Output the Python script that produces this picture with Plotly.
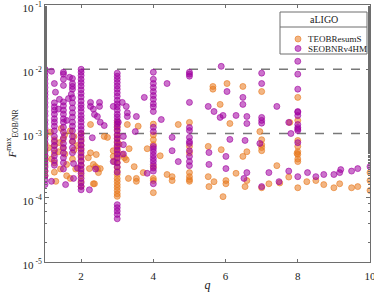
import plotly.graph_objects as go

# ---------------- data ----------------
teob_q = [
    1.0, 1.0, 1.0, 1.0, 1.0, 1.0, 1.0, 1.0,
    1.1, 1.18, 1.26, 1.26, 1.26, 1.26, 1.26, 1.3, 1.15, 1.37,
    1.45, 1.5, 1.5, 1.55, 1.43, 1.6, 1.6, 1.54, 1.4,
    1.7, 1.76, 1.8, 1.76, 1.85, 1.7, 1.8, 1.9,
    2.0, 2.0, 2.0, 2.0, 2.0, 2.0, 2.0, 2.0, 2.0, 2.0, 2.0,
    2.26, 2.64, 2.26, 2.42, 2.34, 2.4, 2.48, 2.53, 2.34, 2.23, 2.45, 2.37, 2.2,
    3.0, 3.0, 3.0, 3.0, 3.0, 3.0, 3.0, 3.0, 3.0, 3.0, 3.0, 3.0, 3.0, 3.0, 3.0,
    3.0, 3.0, 3.0, 3.0, 3.0, 3.0, 3.0,
    2.89, 2.89, 2.92, 3.14, 3.2, 3.25, 3.33, 3.47, 3.31, 3.53, 3.53, 3.72, 3.83,
    3.28, 3.58, 2.73, 3.05,
    4.0, 4.0, 4.0, 4.0, 4.0, 4.0, 4.0, 4.0,
    4.19, 4.38, 4.52, 4.52, 4.69,
    5.0, 5.0, 5.0, 5.0, 5.0, 5.0, 5.0,
    5.65, 5.65, 6.04, 6.48, 5.85, 6.12, 7.0, 6.95, 7.0, 7.0, 7.0, 7.0,
    5.52, 5.88, 6.48, 6.59, 6.29, 6.59, 5.52, 5.68, 5.54, 6.01, 6.01, 5.93,
    6.54, 7.0, 7.2, 7.42, 7.5, 7.78,
    8.0, 8.0, 8.0, 8.0, 8.0, 8.0, 8.0, 8.0, 8.0, 7.75, 7.98,
    8.25, 8.5, 8.72, 9.0, 9.16, 9.49, 9.66, 10.0, 10.0, 10.0,
]
teob_F = [
    9e-4, 7e-4, 5.5e-4, 4.5e-4, 3.8e-4, 3.2e-4, 2.6e-4, 2.2e-4,
    6e-4, 4e-4, 8e-4, 6.5e-4, 5e-4, 3.5e-4, 2.5e-4, 1.8e-4, 1.05e-3, 5.2e-4,
    1.2e-3, 8e-4, 6e-4, 4.8e-4, 2.8e-4, 3.3e-4, 2.2e-4, 9.5e-4, 7.2e-4,
    1.1e-3, 7.5e-4, 5.5e-4, 4e-4, 2.8e-4, 2.0e-4, 9e-4, 6.5e-4,
    1.0e-3, 8e-4, 6.5e-4, 5.5e-4, 4.5e-4, 3.8e-4, 3.2e-4, 2.6e-4, 2.2e-4, 1.8e-4, 1.5e-4,
    1.38e-3, 9.0e-4, 5.0e-4, 4.7e-4, 3.3e-4, 3.05e-4, 2.46e-4, 2.84e-4, 1.65e-4, 2.84e-4, 2.84e-4, 1.65e-4, 4.2e-4,
    1.5e-3, 1.3e-3, 1.15e-3, 9.5e-4, 8.5e-4, 7.5e-4, 6.5e-4, 5.8e-4, 5.2e-4, 4.6e-4, 4.0e-4, 3.5e-4, 3.0e-4, 2.6e-4, 2.3e-4,
    2.0e-4, 1.8e-4, 1.6e-4, 1.45e-4, 1.3e-4, 1.15e-4, 1.05e-4,
    5.4e-4, 4.4e-4, 3.65e-4, 4.7e-4, 4.2e-4, 3.9e-4, 5.8e-4, 3.05e-4, 2.0e-4, 2.0e-4, 1.8e-4, 2.46e-4, 5.8e-4,
    1.38e-3, 1.3e-3, 8.7e-4, 6.8e-4,
    1.4e-3, 9.5e-4, 8.0e-4, 6.7e-4, 3.05e-4, 2.0e-4, 1.85e-4, 1.2e-4,
    4.5e-4, 2.3e-4, 2.13e-4, 1.85e-4, 1.38e-3,
    1.49e-3, 6.3e-4, 5.0e-4, 2.46e-4, 2.13e-4, 1.92e-4, 1.8e-4,
    5.4e-3, 4.9e-3, 6.0e-3, 5.4e-3, 2.84e-3, 1.43e-3, 4.5e-3, 1.07e-3, 8.0e-4, 6.7e-4, 6.05e-4, 5.4e-4,
    6.3e-4, 5.6e-4, 4.4e-4, 5.2e-4, 2.4e-4, 1.85e-4, 2.13e-4, 1.78e-4, 1.49e-4, 1.85e-4, 1.65e-4, 1.04e-4,
    1.49e-4, 1.43e-4, 1.65e-4, 3.16e-4, 1.7e-4, 1.49e-3,
    3.65e-3, 1.6e-3, 7.8e-4, 6.3e-4, 5.2e-4, 4.7e-4, 4.0e-4, 3.65e-4, 1.43e-4, 2.1e-4, 4.9e-4,
    1.78e-4, 1.85e-4, 1.6e-4, 1.43e-4, 1.65e-4, 1.43e-4, 1.49e-4, 2.46e-4, 1.85e-4, 1.3e-4,
]

seob_q = [
    1.0, 1.0, 1.0, 1.0, 1.0, 1.0, 1.0, 1.0, 1.0, 1.0,
    1.0, 1.0, 1.0, 1.0, 1.0, 1.0, 1.0, 1.0, 1.0, 1.0,
    1.0, 1.0, 1.0, 1.0, 1.0, 1.0, 1.0, 1.0, 1.0, 1.0,
    1.18, 1.18,
    1.26, 1.26, 1.26, 1.26, 1.26, 1.26, 1.26, 1.26, 1.26, 1.26,
    1.26, 1.26, 1.26, 1.26, 1.26, 1.26, 1.29,
    1.51, 1.51, 1.51, 1.51, 1.51, 1.51, 1.51, 1.51, 1.51, 1.51,
    1.51, 1.51, 1.51, 1.51, 1.51, 1.51, 1.51, 1.51, 1.51, 1.57,
    1.76, 1.76, 1.76, 1.76, 1.76, 1.76, 1.76, 1.76, 1.76, 1.76,
    1.76, 1.76, 1.76, 1.76, 1.76, 1.76, 1.79, 1.79,
    1.4, 1.65, 1.6, 1.68, 1.73, 1.37, 1.9,
    2.0, 2.0, 2.0, 2.0, 2.0, 2.0, 2.0, 2.0, 2.0, 2.0, 2.0,
    2.0, 2.0, 2.0, 2.0, 2.0, 2.0, 2.0, 2.0, 2.0, 2.0, 2.0,
    2.0, 2.0, 2.0, 2.0, 2.0, 2.0, 2.0, 2.0, 2.0, 2.0, 2.0,
    2.26, 2.51, 2.51, 2.34, 2.37, 2.45, 2.53, 2.64, 2.31, 2.40, 2.23, 2.26,
    3.0, 3.0, 3.0, 3.0, 3.0, 3.0, 3.0, 3.0, 3.0, 3.0,
    3.0, 3.0, 3.0, 3.0, 3.0, 3.0, 3.0, 3.0, 3.0, 3.0,
    3.0, 3.0, 3.0, 3.0, 3.0, 3.0, 3.0, 3.0, 3.0, 3.0, 3.0, 3.0, 3.0,
    2.89, 3.14, 3.25, 3.28, 3.28, 3.03, 3.5, 3.53, 3.75, 3.17, 3.17, 3.17, 3.83, 2.89,
    4.0, 4.0, 4.0, 4.0, 4.0, 4.0, 4.0, 4.0, 4.0, 4.0, 4.0,
    4.0, 4.0, 4.0, 4.0, 4.0, 4.0, 4.0, 4.0, 4.0, 4.0, 4.0,
    4.38, 4.22, 4.52, 4.52, 4.69,
    5.0, 5.0, 5.0, 5.0, 5.0, 5.0, 5.0, 5.0, 5.0, 5.0, 5.0, 5.0, 5.0,
    5.88, 5.52, 5.68, 5.93, 5.85, 6.04, 6.29, 6.48, 6.48, 6.59, 6.59, 6.12, 6.54,
    5.54, 6.01, 5.54, 6.01, 6.59, 6.51,
    7.0, 7.0, 7.0, 7.0, 7.0, 6.95, 7.2, 7.42, 7.48, 7.75, 7.81, 7.75, 7.0,
    8.0, 8.0, 8.0, 8.0, 8.0, 8.0, 8.0, 8.0, 8.0, 8.0, 8.0, 8.0,
    8.27, 8.5, 8.72, 9.0, 9.16, 9.19, 9.49, 9.66, 10.0,
]
seob_F = [
    1.0e-2, 9e-3, 8e-3, 7e-3, 6e-3, 5.2e-3, 4.5e-3, 4e-3, 3.5e-3, 3e-3,
    2.6e-3, 2.2e-3, 1.9e-3, 1.6e-3, 1.4e-3, 1.2e-3, 1.05e-3, 9e-4, 8e-4, 7e-4,
    6e-4, 5.2e-4, 4.5e-4, 4e-4, 3.5e-4, 3e-4, 2.6e-4, 2.2e-4, 1.9e-4, 1.6e-4,
    9.3e-3, 1.8e-4,
    6.0e-3, 3.0e-3, 2.6e-3, 2.3e-3, 2.0e-3, 1.7e-3, 1.5e-3, 1.3e-3, 1.1e-3, 9e-4,
    7.5e-4, 6.5e-4, 5.5e-4, 4.5e-4, 3.8e-4, 3.2e-4, 4.4e-3,
    9.0e-3, 8.4e-3, 7.0e-3, 5.6e-3, 3.1e-3, 2.7e-3, 2.3e-3, 2.0e-3, 1.7e-3, 1.5e-3,
    1.25e-3, 1.05e-3, 8.5e-4, 7e-4, 6e-4, 5e-4, 4.2e-4, 3.5e-4, 2.8e-4, 1.6e-4,
    7.2e-3, 6.0e-3, 5.4e-3, 4.9e-3, 3.6e-3, 3.0e-3, 2.5e-3, 2.1e-3, 1.8e-3, 1.5e-3,
    1.3e-3, 1.1e-3, 9e-4, 7.5e-4, 6e-4, 5e-4, 3.4e-4, 2.0e-4,
    3.4e-3, 3.5e-3, 1.6e-3, 7.5e-3, 4.1e-3, 2.4e-3, 2.9e-4,
    1.0e-2, 9e-3, 8e-3, 7e-3, 6.2e-3, 5.5e-3, 4.8e-3, 4.2e-3, 3.7e-3, 3.2e-3, 2.8e-3,
    2.5e-3, 2.2e-3, 1.9e-3, 1.7e-3, 1.5e-3, 1.3e-3, 1.15e-3, 1.0e-3, 8.8e-4, 7.6e-4, 6.6e-4,
    5.8e-4, 5e-4, 4.3e-4, 3.7e-4, 3.2e-4, 2.8e-4, 2.4e-4, 2.0e-4, 1.7e-4, 1.5e-4, 1.33e-4,
    3.05e-3, 3.05e-3, 2.64e-3, 2.4e-3, 1.98e-3, 1.84e-3, 1.5e-3, 1.33e-3, 8.6e-4, 2.8e-4, 1.33e-4, 2.64e-3,
    8.7e-3, 7.8e-3, 7.0e-3, 6.2e-3, 5.5e-3, 4.9e-3, 4.3e-3, 3.8e-3, 3.3e-3, 2.9e-3,
    2.6e-3, 2.3e-3, 2.0e-3, 1.8e-3, 1.6e-3, 1.4e-3, 1.25e-3, 1.1e-3, 9.5e-4, 8.3e-4,
    7.2e-4, 6.3e-4, 5.5e-4, 4.8e-4, 4.2e-4, 3.5e-4, 3.0e-4, 2.5e-4, 7.8e-5, 7e-5, 6.2e-5, 5.5e-5, 4.7e-5,
    2.64e-3, 3.05e-3, 2.64e-3, 2.1e-3, 1.84e-3, 1.5e-3, 1.07e-3, 1.84e-3, 3.65e-3, 9.0e-4, 6.7e-4, 4.8e-4, 2.4e-4, 3.65e-4,
    9.0e-3, 7.0e-3, 6.0e-3, 5.2e-3, 4.5e-3, 3.9e-3, 3.4e-3, 2.9e-3, 2.6e-3, 2.2e-3, 1.25e-3,
    1.07e-3, 6.3e-4, 5.8e-4, 5.2e-4, 4.6e-4, 4.1e-4, 3.7e-4, 3.3e-4, 2.9e-4, 2.6e-4, 1.65e-4,
    6.0e-3, 1.65e-3, 8.7e-4, 5.4e-4, 3.65e-4,
    9.0e-3, 8.4e-3, 7.8e-3, 3.05e-3, 1.24e-3, 1.11e-3, 8.7e-4, 7.5e-4, 7.0e-4, 5.4e-4, 4.4e-4, 3.65e-4, 3.16e-4,
    1.11e-2, 2.64e-3, 2.2e-3, 1.91e-3, 1.78e-3, 4.5e-3, 1.91e-3, 3.65e-3, 2.84e-3, 1.84e-3, 1.43e-3, 8.1e-4, 7.8e-4,
    5.05e-4, 4.4e-4, 3.3e-4, 2.84e-4, 2.46e-4, 2.0e-4,
    8.7e-3, 6.0e-3, 1.78e-3, 1.6e-3, 1.45e-3, 7.0e-4, 2.46e-4, 2.64e-3, 1.78e-4, 1.49e-3, 1.0e-3, 2.6e-4, 1.49e-4,
    1.33e-2, 8.4e-3, 4.9e-3, 2.2e-3, 2.15e-3, 1.9e-3, 1.38e-3, 1.24e-3, 1.11e-3, 1.17e-3, 7.2e-4, 2.13e-4,
    2.46e-4, 2.13e-4, 2.3e-4, 2.3e-4, 2.46e-4, 2.74e-4, 2.6e-4, 2.84e-4, 3.05e-4,
]

series_names = ["TEOBResumS", "SEOBNRv4HM"]
legend_title = "aLIGO"
thresholds = [1e-2, 1e-3]
x_range = [1, 10]
x_ticks = [2, 4, 6, 8, 10]
y_ticks = [1e-5, 1e-4, 1e-3, 1e-2, 1e-1]
y_ticklabels = ["10<sup> -5</sup>", "10<sup> -4</sup>", "10<sup> -3</sup>",
                "10<sup> -2</sup>", "10<sup> -1</sup>"]

# ---------------- figure ----------------
SERIF = "Liberation Serif, DejaVu Serif, serif"
ORANGE = "rgba(232,120,30,0.55)"
ORANGE_E = "rgba(232,120,30,0.75)"
PURPLE = "rgba(160,0,160,0.55)"
PURPLE_E = "rgba(160,0,160,0.75)"
FRAME = "rgb(110,110,110)"

fig = go.Figure()
for t in thresholds:
    fig.add_trace(go.Scatter(
        x=x_range, y=[t, t], mode="lines", showlegend=False, hoverinfo="skip",
        line=dict(color="rgb(120,120,120)", width=1.6, dash="dash")))

fig.add_trace(go.Scatter(
    x=teob_q, y=teob_F, mode="markers", name=series_names[0], showlegend=False,
    marker=dict(size=6, color=ORANGE, line=dict(color=ORANGE_E, width=0.8))))
fig.add_trace(go.Scatter(
    x=seob_q, y=seob_F, mode="markers", name=series_names[1], showlegend=False,
    marker=dict(size=6, color=PURPLE, line=dict(color=PURPLE_E, width=0.8))))

axis_common = dict(showline=True, mirror="allticks", linecolor=FRAME,
                   linewidth=1, ticks="inside", tickcolor=FRAME, automargin=False,
                   showgrid=False, zeroline=False, ticklabeloverflow="allow",
                   tickfont=dict(family=SERIF, size=11, color="#222"))

fig.update_xaxes(range=x_range, tickvals=x_ticks, ticklen=3, ticklabelstandoff=4,
                 title=dict(text="<i>q</i>", font=dict(family=SERIF, size=12, color="#222"),
                            standoff=0),
                 **axis_common)
fig.update_yaxes(type="log", range=[-5.0005, -0.9995], tickvals=y_ticks, ticktext=y_ticklabels,
                 ticklen=4, ticklabelshift=3,
                 minor=dict(ticks="inside", ticklen=2, tickcolor=FRAME, showgrid=False),
                 title=dict(text="<i>F</i><sup>max</sup><sub>EOB/NR</sub>",
                            font=dict(family=SERIF, size=11, color="#222"), standoff=3),
                 **axis_common)

# ---- legend box drawn in paper coordinates (plot area: x 45-370, y 5-262 px) ----
PW, PH, L0, T0 = 325.0, 257.0, 45.0, 5.0
def px(x):
    return (x - L0) / PW
def py(y):
    return 1 - (y - T0) / PH

fig.add_shape(type="rect", xref="paper", yref="paper",
              x0=px(280), x1=px(367), y0=py(54), y1=py(12),
              line=dict(color=FRAME, width=1), fillcolor="white", layer="above")
fig.add_shape(type="line", xref="paper", yref="paper",
              x0=px(280), x1=px(367), y0=py(27), y1=py(27),
              line=dict(color=FRAME, width=1), layer="above")
fig.add_annotation(xref="paper", yref="paper", x=px(323.5), y=py(19.5),
                   text=legend_title, showarrow=False, xanchor="center", yanchor="middle",
                   font=dict(family=SERIF, size=10, color="#222"))
for i, (name, fc, ec) in enumerate([(series_names[0], ORANGE, ORANGE_E),
                                    (series_names[1], PURPLE, PURPLE_E)]):
    yc = 39 + 9.5 * i
    fig.add_shape(type="circle", xref="paper", yref="paper",
                  x0=px(295), x1=px(301), y0=py(yc + 3), y1=py(yc - 3),
                  fillcolor=fc, line=dict(color=ec, width=0.8), layer="above")
    fig.add_annotation(xref="paper", yref="paper", x=px(306), y=py(yc),
                       text=name, showarrow=False, xanchor="left", yanchor="middle",
                       font=dict(family=SERIF, size=9, color="#222"))

fig.update_layout(
    width=374, height=292,
    margin=dict(l=45, r=4, t=5, b=30, autoexpand=False),
    paper_bgcolor="white", plot_bgcolor="white",
    showlegend=False,
)

fig.write_html("out.html", config={"displayModeBar": False},
               post_script="document.body.style.margin='0px';document.body.style.padding='0px';")
